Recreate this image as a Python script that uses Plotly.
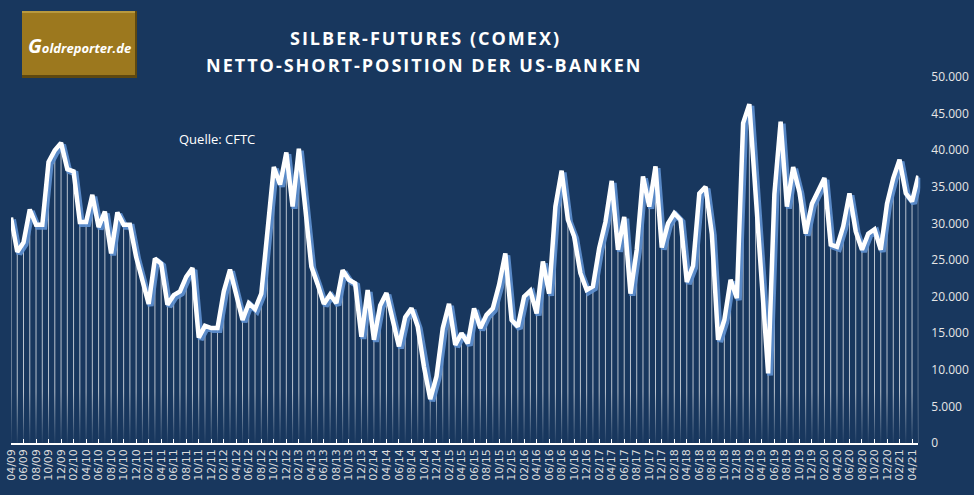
import pandas as pd
import plotly.graph_objects as go

# monthly net short position of US banks in COMEX silver futures, 04/09 .. 05/21
months = [d.strftime("%m/%y") for d in pd.date_range("2009-04-01", periods=146, freq="MS")]
tick_labels = months[::2]

net_short = [
    30800, 26100, 27400, 31900, 29800, 29800, 38400, 40000, 41000, 37400,
    37100, 30200, 30200, 33900, 29500, 31600, 25900, 31500, 29800, 29800,
    25400, 22000, 19000, 25200, 24500, 18900, 20200, 20700, 22700, 23900,
    14400, 16000, 15700, 15700, 20700, 23700, 20300, 16800, 19100, 18300,
    20400, 28500, 37700, 35300, 39700, 32300, 40200, 32300, 24100, 21700,
    19000, 20300, 19100, 23600, 22300, 21800, 14500, 20900, 14100, 18800,
    20500, 16800, 13200, 17200, 18400, 15900, 10400, 6000, 9100, 15700,
    19000, 13400, 15000, 13600, 18400, 15700, 17500, 18400, 21600, 25900,
    16800, 15900, 20000, 20800, 17700, 24800, 20400, 32300, 37200, 30500,
    28200, 23200, 20900, 21400, 26600, 30200, 35800, 26400, 30900, 20400,
    26400, 36400, 32300, 37800, 26700, 30000, 31400, 30500, 22000, 24200,
    34100, 35000, 28600, 14100, 16800, 22300, 19800, 43700, 46300, 34000,
    21500, 9500, 34000, 43900, 32300, 37700, 34300, 28600, 32700, 34600,
    36200, 27100, 26800, 29600, 34100, 28900, 26400, 28600, 29200, 26400,
    32700, 36200, 38700, 34100, 33000, 36500,
]

BG = "#18375e"
W, H = 974, 495
FADE_LEVEL = 7000

px_x0, px_x1 = 11, 918.3      # first / last data point
px_y0, px_y1 = 443, 77        # 0 / 50.000
dom_x = [px_x0 / W, px_x1 / W]
dom_y = [(H - px_y0) / H, (H - px_y1) / H]
SHIFT = 2

fig = go.Figure()

# drop lines
fig.add_trace(go.Scatter(
    x=months, y=net_short, mode="markers", marker=dict(size=1, opacity=0),
    error_y=dict(type="data", symmetric=False, array=[0] * len(net_short),
                 arrayminus=net_short, width=0, thickness=1,
                 color="rgba(255,255,255,0.7)"),
    hoverinfo="skip", showlegend=False, xaxis="x", yaxis="y",
))
# fade of the drop lines towards the axis
fig.add_trace(go.Scatter(
    x=months, y=[FADE_LEVEL] * len(months), mode="lines", line=dict(width=0),
    fill="tozeroy",
    fillgradient=dict(type="vertical",
                      colorscale=[[0, "rgba(24,55,94,0.95)"], [1, "rgba(24,55,94,0)"]]),
    hoverinfo="skip", showlegend=False, xaxis="x", yaxis="y",
))
# blue shadow of the line
fig.add_trace(go.Scatter(
    x=months, y=net_short, mode="lines",
    line=dict(color="rgba(95,145,210,0.9)", width=6),
    hoverinfo="skip", showlegend=False, xaxis="x2", yaxis="y2",
))
# main line
fig.add_trace(go.Scatter(
    x=months, y=net_short, mode="lines",
    line=dict(color="white", width=4.5),
    showlegend=False, xaxis="x3", yaxis="y3",
))

hidden_x = dict(type="category", categoryorder="array", categoryarray=months,
                range=[0, len(months) - 1], visible=False)
hidden_y = dict(range=[0, 50000], visible=False)

fig.update_layout(
    width=W, height=H,
    margin=dict(l=0, r=0, t=0, b=0),
    paper_bgcolor=BG, plot_bgcolor="rgba(0,0,0,0)",
    separators=",.",
    xaxis=dict(
        type="category", categoryorder="array", categoryarray=months,
        range=[0, len(months) - 1], domain=dom_x,
        tickvals=tick_labels, ticktext=tick_labels, tickangle=-90,
        ticks="inside", ticklen=4, tickcolor="white", tickwidth=1,
        showline=True, linecolor="white", linewidth=1.5,
        showgrid=False, automargin=False,
        tickfont=dict(family="DejaVu Sans", size=11, color="#dcdcdc"),
    ),
    yaxis=dict(
        range=[0, 50000], domain=dom_y, side="right",
        tickvals=list(range(0, 50001, 5000)), tickformat=",d",
        showgrid=False, zeroline=False, showline=False, ticks="",
        ticklabelstandoff=12, automargin=False,
        tickfont=dict(family="Open Sans", size=12, color="#e6e6e6"),
    ),
    xaxis2=dict(hidden_x, domain=[dom_x[0] + SHIFT / W, dom_x[1] + SHIFT / W], anchor="y2"),
    yaxis2=dict(hidden_y, domain=[dom_y[0] - SHIFT / H, dom_y[1] - SHIFT / H], anchor="x2"),
    xaxis3=dict(hidden_x, domain=dom_x, anchor="y3"),
    yaxis3=dict(hidden_y, domain=dom_y, anchor="x3"),
)

# logo box
fig.add_shape(type="rect", xref="paper", yref="paper",
              x0=22 / W, x1=137 / W, y0=1 - 78 / H, y1=1 - 11 / H,
              fillcolor="#5e4810", line=dict(width=0), layer="below")
fig.add_shape(type="rect", xref="paper", yref="paper",
              x0=22 / W, x1=135 / W, y0=1 - 75 / H, y1=1 - 11 / H,
              fillcolor="#9c781e", line=dict(width=0), layer="below")
fig.add_shape(type="rect", xref="paper", yref="paper",
              x0=22 / W, x1=135 / W, y0=1 - 13 / H, y1=1 - 11 / H,
              fillcolor="#b8993e", line=dict(width=0), layer="below")

TITLE_STYLE = "letter-spacing:2px"
annotations = [
    dict(text="<b><i><span style='font-size:20px'>G</span>oldreporter.de</i></b>",
         x=79 / W, y=1 - 45 / H, font=dict(family="Open Sans", size=13, color="white")),
    dict(text=f"<b><span style='{TITLE_STYLE}'>SILBER-FUTURES (COMEX)</span></b>",
         x=425 / W, y=1 - 38 / H, font=dict(family="Open Sans", size=18, color="white")),
    dict(text=f"<b><span style='{TITLE_STYLE}'>NETTO-SHORT-POSITION DER US-BANKEN</span></b>",
         x=424 / W, y=1 - 65 / H, font=dict(family="Open Sans", size=18, color="white")),
    dict(text="Quelle: CFTC", x=217 / W, y=1 - 139 / H,
         font=dict(family="Open Sans", size=13, color="white")),
]
for a in annotations:
    fig.add_annotation(xref="paper", yref="paper", showarrow=False,
                       xanchor="center", yanchor="middle", **a)

# page body has a default margin; drop it so the chart fills the window
fig.write_html("out.html", config={"displayModeBar": False},
               post_script="document.body.style.margin='0';")
